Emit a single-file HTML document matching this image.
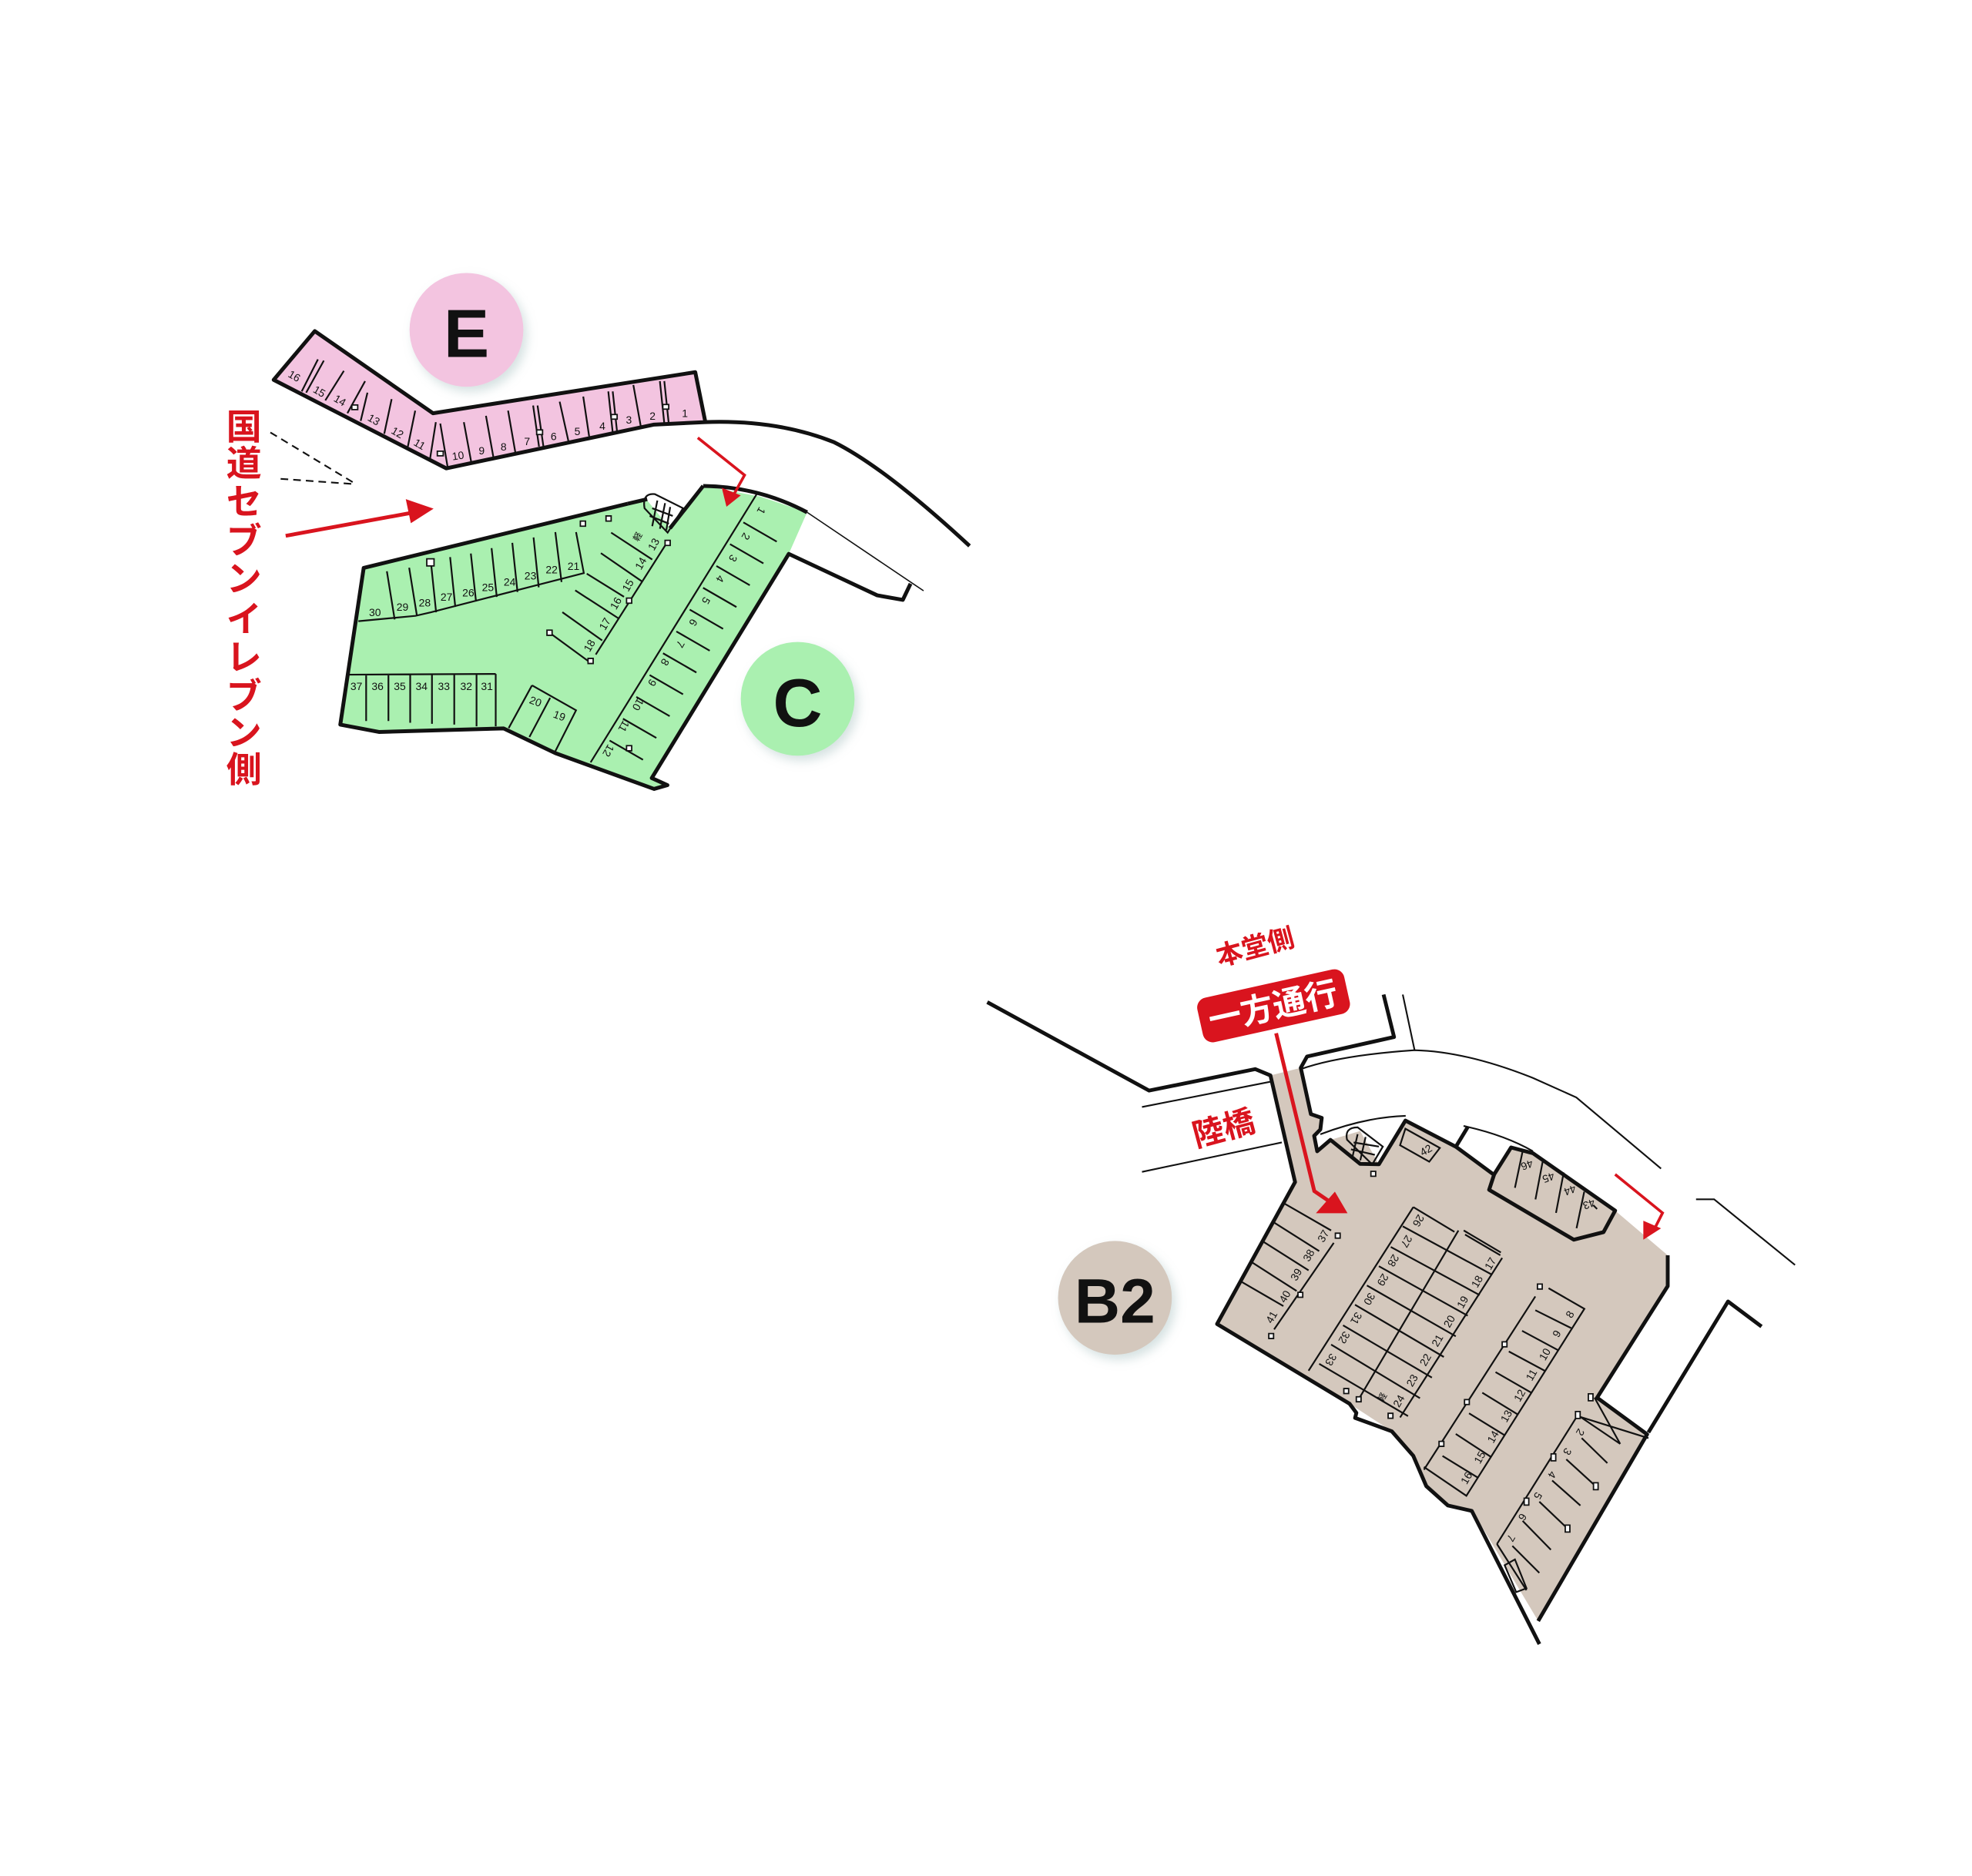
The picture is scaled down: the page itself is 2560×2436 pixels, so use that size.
<!DOCTYPE html>
<html><head><meta charset="utf-8"><style>
html,body{margin:0;padding:0;background:#fff;}
svg{display:block;}
text{font-family:"Liberation Sans","Noto Sans CJK JP",sans-serif;}
.n{font-size:8.5px;fill:#111;text-anchor:middle;dominant-baseline:central;}
.r{fill:#d9141e;font-weight:bold;text-anchor:middle;dominant-baseline:central;font-family:"Liberation Sans","Noto Sans CJK JP",sans-serif;}
.t{fill:none;stroke:#111;stroke-width:2.2;vector-effect:non-scaling-stroke;}
.k{fill:none;stroke:#111;stroke-width:5;stroke-linejoin:round;vector-effect:non-scaling-stroke;}
.th{fill:none;stroke:#111;stroke-width:1.6;vector-effect:non-scaling-stroke;}
.sq{fill:#fff;stroke:#111;stroke-width:1.8;vector-effect:non-scaling-stroke;}
</style></head><body>
<svg width="2560" height="2436" viewBox="0 0 1560 1484.5" preserveAspectRatio="none" xmlns="http://www.w3.org/2000/svg">
<defs>
<filter id="sh" x="-30%" y="-30%" width="160%" height="160%"><feDropShadow dx="3" dy="4" stdDeviation="4" flood-color="#8aa" flood-opacity="0.35"/></filter>
</defs>

<!-- ===== E / C area ===== -->
<path d="M558,334 Q615,332 660,350 Q700,370 767,432" class="k"/>
<polygon points="216.5,300.6 249,262 342.5,327 550,294.5 558,334 517.4,336 353,370.6" class="k" style="fill:#f3c4e0"/>
<g transform="translate(207.2,255.9) scale(0.2332,0.2031)">
<path class="t" d="M135,265L190,140M150,270L210,145M215,300L278,185M290,350L350,225M335,380L358,270M415,430L440,295M495,480L520,340M570,530L590,385M605,390L630,560M685,385L710,540M760,360L785,520M835,340L860,505M920,320L940,480M935,320L955,480M1010,305L1040,460M1090,285L1110,440M1175,265L1190,425M1190,265L1205,425M1260,240L1285,400M1350,225L1365,390M1365,225L1380,390"/>
<rect class="sq" x="305" y="318" width="20" height="18"/><rect class="sq" x="595" y="498" width="20" height="18"/><rect class="sq" x="932" y="415" width="20" height="18"/><rect class="sq" x="1185" y="355" width="20" height="18"/><rect class="sq" x="1360" y="316" width="20" height="18"/>
</g>
<g class="n">
<text x="232.9" y="297.5" transform="rotate(30 232.9 297.5)">16</text>
<text x="252.7" y="309.7" transform="rotate(30 252.7 309.7)">15</text>
<text x="269" y="316.8" transform="rotate(30 269 316.8)">14</text>
<text x="295.8" y="332" transform="rotate(30 295.8 332)">13</text>
<text x="314.5" y="342.2" transform="rotate(30 314.5 342.2)">12</text>
<text x="332" y="351.4" transform="rotate(30 332 351.4)">11</text>
<text x="362.3" y="360.5" transform="rotate(-8 362.3 360.5)">10</text>
<text x="381" y="356.4">9</text><text x="398.4" y="353.4">8</text><text x="417" y="349.3">7</text>
<text x="438" y="345.3">6</text><text x="456.7" y="341.2">5</text><text x="476.5" y="337.1">4</text>
<text x="497.5" y="332">3</text><text x="516.2" y="329">2</text><text x="541.8" y="327">1</text>
</g>

<!-- C lot -->
<polygon points="287.7,449.4 496.6,398.6 512,396 530,418 556.3,384.5 601.5,393 638.5,405.4 624,438.3 515.6,615.7 528,621.3 517.4,624.3 439.4,596 398.4,576.4 299.8,579.2 269.2,573.4" fill="#aaf0b0"/>
<polygon points="638.5,405.4 730.6,467.5 720.3,461.9 714.2,474.7 694,471.1 624,438.3" fill="#fff"/>
<path class="k" d="M556.3,384.5 Q600,385 638.5,405.4"/>
<path class="k" d="M556.3,384.5 L530,418"/>
<path class="k" d="M496.6,398.6 L287.7,449.4 L269.2,573.4 L299.8,579.2 L398.4,576.4 L439.4,596 L517.4,624.3 L528,621.3 L515.6,615.7 L624,438.3 L694,471.1 L714.2,474.7 L720.3,461.9"/>
<path class="th" d="M638.5,405.4 L730.6,467.5"/>
<path class="k" d="M496.6,398.6 L512,395"/>
<g transform="translate(426.6,377.8) scale(0.2031)">
<path d="M410,120 Q400,60 450,65 L560,120 L500,215 Z" fill="#fff" class="t"/>
<path class="t" d="M440,120L520,150M430,150L505,180M460,90L440,190M490,100L470,200M510,115L495,205"/>
<path class="t" d="M850,60L200,1110"/>
<path class="t" d="M795,175L925,250M743,260L873,335M690,345L820,420M638,430L768,505M586,515L716,590M534,600L664,675M482,685L612,760M430,770L560,845M378,855L508,930M326,940L456,1015M274,1025L404,1100"/>
<path class="t" d="M500,250L220,690M280,215L440,320M240,295L400,405M185,375L330,465M140,440L310,550M90,525L245,635M40,605L190,715"/>
<rect class="sq" x="160" y="170" width="20" height="20"/><rect class="sq" x="260" y="150" width="20" height="20"/><rect class="sq" x="490" y="245" width="20" height="20"/><rect class="sq" x="340" y="470" width="20" height="20"/><rect class="sq" x="190" y="705" width="20" height="20"/><rect class="sq" x="30" y="595" width="20" height="20"/><rect class="sq" x="340" y="1045" width="20" height="20"/>
</g>
<g transform="translate(152.3,201.1) scale(0.410,0.282)">
<path class="t" d="M320,1030L430,1015L460,1005L755,895L740,780M375,890L390,1025M418,880L433,1015M460,865L470,1005M497,850L507,990M537,840L547,975M577,825L587,962M617,810L627,948M658,795L668,935M700,780L712,920"/>
<path class="t" d="M300,1180L585,1178M335,1180L335,1310M378,1180L378,1310M420,1180L420,1315M462,1180L462,1318M505,1180L505,1320M548,1180L548,1325M585,1178L585,1325"/>
<path class="t" d="M655,1210L740,1280L700,1395M610,1330L655,1210M690,1245L650,1355"/>
<rect class="sq" x="452" y="855" width="14" height="20"/>
</g>
<g class="n">
<text x="296.6" y="484.5">30</text><text x="318.4" y="480.3">29</text><text x="336" y="476.9">28</text><text x="353.2" y="472.4">27</text><text x="370.4" y="469">26</text><text x="386" y="464.8">25</text><text x="403.2" y="460.5">24</text><text x="419.6" y="455.5">23</text><text x="436.4" y="450.7">22</text><text x="453.7" y="447.9">21</text>
<text x="281.9" y="542.9">37</text><text x="298.7" y="542.9">36</text><text x="316.3" y="542.9">35</text><text x="333.5" y="542.9">34</text><text x="351.2" y="542.9">33</text><text x="368.8" y="542.9">32</text><text x="385.2" y="542.9">31</text>
<text x="423.7" y="555" transform="rotate(20 423.7 555)">20</text><text x="442.6" y="566.3" transform="rotate(20 442.6 566.3)">19</text>
<text x="602.3" y="404.2" transform="rotate(120 602.3 404.2)">1</text><text x="590.1" y="424.5" transform="rotate(120 590.1 424.5)">2</text><text x="580" y="441.8" transform="rotate(120 580 441.8)">3</text><text x="569.8" y="458" transform="rotate(120 569.8 458)">4</text><text x="558.6" y="475.3" transform="rotate(120 558.6 475.3)">5</text><text x="548.5" y="492.6" transform="rotate(120 548.5 492.6)">6</text><text x="538.3" y="509.8" transform="rotate(120 538.3 509.8)">7</text><text x="526.1" y="524" transform="rotate(120 526.1 524)">8</text><text x="516" y="540.3" transform="rotate(120 516 540.3)">9</text><text x="504.8" y="557.5" transform="rotate(120 504.8 557.5)">10</text><text x="493.6" y="574.8" transform="rotate(120 493.6 574.8)">11</text><text x="481.4" y="594.1" transform="rotate(120 481.4 594.1)">12</text>
<text x="517" y="430.6" transform="rotate(-60 517 430.6)">13</text><text x="506.8" y="445.8" transform="rotate(-60 506.8 445.8)">14</text><text x="496.7" y="463.1" transform="rotate(-60 496.7 463.1)">15</text><text x="487.1" y="477.3" transform="rotate(-60 487.1 477.3)">16</text><text x="478.4" y="493.6" transform="rotate(-60 478.4 493.6)">17</text><text x="466.2" y="510.8" transform="rotate(-60 466.2 510.8)">18</text>
<text x="505" y="425" font-size="7" transform="rotate(-60 505 425)">軽</text>
</g>

<path d="M213.9,342.2 L281.5,383 M222,378.9 L279.5,383" stroke="#111" stroke-width="1.3" stroke-dasharray="6,4" fill="none"/>
<path d="M226,424 L330,405" stroke="#d9141e" stroke-width="3" fill="none"/>
<polygon points="343,402.5 321,395 325,414" fill="#d9141e"/>
<path d="M552,346.4 L589,376 L579,394" stroke="#d9141e" stroke-width="2.2" fill="none"/>
<polygon points="574.7,401 571,386 586,392" fill="#d9141e"/>
<text class="r" font-size="28" x="193" y="338">国</text>
<text class="r" font-size="28" x="193" y="367">道</text>
<text class="r" font-size="28" x="193" y="397">セ</text>
<text class="r" font-size="28" x="193" y="428">ブ</text>
<text class="r" font-size="28" x="193" y="458">ン</text>
<text class="r" font-size="28" x="193" y="490">イ</text>
<text class="r" font-size="28" x="193" y="520">レ</text>
<text class="r" font-size="28" x="193" y="551">ブ</text>
<text class="r" font-size="28" x="193" y="580">ン</text>
<text class="r" font-size="28" x="193" y="609">側</text>

<circle cx="369" cy="261" r="45" fill="#f3c4e0" filter="url(#sh)"/>
<text x="369" y="264" font-size="54" font-weight="bold" text-anchor="middle" dominant-baseline="central" fill="#111">E</text>
<circle cx="631" cy="553" r="45" fill="#aaf0b0" filter="url(#sh)"/>
<text x="631" y="556" font-size="54" font-weight="bold" text-anchor="middle" dominant-baseline="central" fill="#111">C</text>
<circle cx="882" cy="1027" r="45" fill="#d4c8bd" filter="url(#sh)"/>
<text x="882" y="1030" font-size="50" font-weight="bold" text-anchor="middle" dominant-baseline="central" fill="#111">B2</text>

<!-- ===== B2 ===== -->
<polygon points="1005,851 1029,845 1037,881.6 1045.6,884.6 1044.5,893.8 1039.6,898.8 1042,911 1052.5,902 1076,895 1090.8,921.3 1111.8,886.7 1151.7,907.4 1181,929 1178,941.5 1245,981 1268.5,975 1277.7,958 1319.3,993.3 1319.3,1017.7 1263.4,1106 1303,1135 1216.8,1282.7 1166,1197.4 1145.4,1191.3 1128.3,1176 1118,1152 1101,1132.6 1067.6,1110.8 962.8,1047.7 1024.5,935.4" fill="#d4c8bd"/>
<g fill="none" stroke="#111" stroke-width="3" stroke-linejoin="round">
<path d="M781,793 L909,863 L993,846 L1005,851 L1024.5,935.4 L962.8,1047.7 L1067.6,1110.8 L1073,1118 L1072,1122 L1101,1132.6 L1118,1152 L1128.3,1176 L1145.4,1191.3 L1164.3,1195.6 L1217.8,1301"/>
<path d="M1094.5,787 L1102.8,820.6 L1034,836 L1029,845 L1037,881.6 L1045.6,884.6 L1044.5,893.8 L1039.6,898.8 L1042,911 L1052.5,902 L1076,921 L1090.8,921.3 L1111.8,886.7 L1151.7,907.4 L1181,929"/>
<path d="M1161,892 L1151.7,907.4"/>
<path d="M1182,929.3 L1195.4,908 L1212.7,912.6 L1277.7,958 L1268.5,975 L1245,981 L1178,941.5 Z" fill="#d4c8bd"/>
<path d="M1319.3,993.3 L1319.3,1017.7 L1263.4,1106 L1303,1135 L1216.8,1282.7"/>
<path d="M1304,1133.5 L1367,1029.9 L1393.5,1049.7"/>
</g>
<g fill="none" stroke="#111" stroke-width="1.3">
<path d="M1109.7,787 L1119,830.8"/>
<path d="M1029,846 Q1060,835 1119,831 Q1160,832 1212.7,853 L1247,868.4 L1314,924.7"/>
<path d="M903.4,876 L1004.8,856 M903.4,927.3 L1014,904"/>
<path d="M1044.5,897.6 Q1080,884 1112,883 M1157.8,891 Q1190,898 1212.7,911"/>
<path d="M1341.7,949 L1356,949 L1420,1001"/>
</g>
<g transform="translate(962.8,871.4) scale(0.2098,0.2176)">
<path d="M490,140 Q480,95 530,95 L625,165 L585,230 Z" fill="#fff" class="t"/>
<path class="t" d="M515,150L610,165M505,175L595,195M530,120L510,205M560,130L540,215"/>
<rect class="sq" x="580" y="255" width="18" height="18"/>
<path class="t" d="M710,100L840,170L800,220L690,160Z"/>
<path class="t" d="M250,370L430,470M213,440L385,545M173,510L345,615M130,585L300,690M89,655L250,745M440,515L215,830"/>
<rect class="sq" x="446" y="480" width="18" height="18"/><rect class="sq" x="305" y="695" width="18" height="18"/><rect class="sq" x="195" y="845" width="18" height="18"/>
<path class="t" d="M740,385L345,980M740,385L895,475M910,470L530,1090M1075,570L690,1150M930,470L1070,550M935,485L1068,560"/>
<path class="t" d="M700,455L1035,630M655,530L990,705M610,600L945,780M565,670L900,855M520,740L855,930M475,815L810,1005M430,885L765,1080M385,955L720,1145"/>
<rect class="sq" x="478" y="1045" width="18" height="18"/><rect class="sq" x="525" y="1075" width="18" height="18"/><rect class="sq" x="645" y="1135" width="18" height="18"/>
<path class="t" d="M1250,680L1385,755L940,1435L780,1330M1200,710L780,1340"/>
<path class="t" d="M1335,825L1200,760M1285,905L1150,835M1235,980L1100,910M1185,1060L1050,985M1135,1140L1000,1060M1085,1215L950,1135M1035,1295L900,1210M985,1370L850,1290"/>
<rect class="sq" x="1208" y="665" width="18" height="18"/><rect class="sq" x="1075" y="875" width="18" height="18"/><rect class="sq" x="933" y="1085" width="18" height="18"/><rect class="sq" x="837" y="1237" width="18" height="18"/>
</g>
<g transform="translate(1157.8,853.1) scale(0.2031,0.3047)">
<path class="t" d="M445,875L130,1210M130,1210L245,1330M460,935L560,1000M400,990L515,1060M345,1045L455,1110M295,1100L405,1170M230,1150L340,1225M190,1215L295,1285M455,880L610,950M510,830L610,950M455,880L720,935"/>
<path class="t" d="M160,1265L200,1250L245,1325L205,1335Z"/>
<path class="t" d="M200,285L230,190M280,315L310,210M360,350L390,245M440,390L470,295M505,330L520,340"/>
<rect class="sq" x="436" y="866" width="18" height="18"/><rect class="sq" x="341" y="976" width="18" height="18"/><rect class="sq" x="236" y="1091" width="18" height="18"/><rect class="sq" x="486" y="820" width="18" height="18"/><rect class="sq" x="506" y="1051" width="18" height="18"/><rect class="sq" x="396" y="1161" width="18" height="18"/>
</g>
<g class="n">
<text x="1128" y="910" transform="rotate(-30 1128 910)">42</text>
<text x="1208" y="922" transform="rotate(160 1208 922)">46</text><text x="1225" y="932" transform="rotate(160 1225 932)">45</text><text x="1242" y="942" transform="rotate(160 1242 942)">44</text><text x="1257" y="953" transform="rotate(160 1257 953)">43</text>
<text x="1046.7" y="978" transform="rotate(-60 1046.7 978)">37</text><text x="1035.2" y="993.3" transform="rotate(-60 1035.2 993.3)">38</text><text x="1025.3" y="1008.5" transform="rotate(-60 1025.3 1008.5)">39</text><text x="1016.3" y="1025.9" transform="rotate(-60 1016.3 1025.9)">40</text><text x="1005.8" y="1042.2" transform="rotate(-60 1005.8 1042.2)">41</text>
<text x="1122.2" y="966" transform="rotate(120 1122.2 966)">26</text><text x="1112.8" y="982.4" transform="rotate(120 1112.8 982.4)">27</text><text x="1102.3" y="997.6" transform="rotate(120 1102.3 997.6)">28</text><text x="1094" y="1012.8" transform="rotate(120 1094 1012.8)">29</text><text x="1083.4" y="1028" transform="rotate(120 1083.4 1028)">30</text><text x="1073" y="1043.3" transform="rotate(120 1073 1043.3)">31</text><text x="1063.5" y="1058.5" transform="rotate(120 1063.5 1058.5)">32</text><text x="1053" y="1076" transform="rotate(120 1053 1076)">33</text>
<text x="1178.9" y="999.8" transform="rotate(-60 1178.9 999.8)">17</text><text x="1168.4" y="1014" transform="rotate(-60 1168.4 1014)">18</text><text x="1156.9" y="1030.3" transform="rotate(-60 1156.9 1030.3)">19</text><text x="1146.4" y="1045.5" transform="rotate(-60 1146.4 1045.5)">20</text><text x="1137" y="1060.7" transform="rotate(-60 1137 1060.7)">21</text><text x="1127.5" y="1076" transform="rotate(-60 1127.5 1076)">22</text><text x="1117" y="1092.3" transform="rotate(-60 1117 1092.3)">23</text><text x="1106.5" y="1108.6" transform="rotate(-60 1106.5 1108.6)">24</text>
<text x="1094" y="1106" font-size="7" transform="rotate(-60 1094 1106)">軽</text>
<text x="1241.8" y="1040" transform="rotate(-60 1241.8 1040)">8</text><text x="1231.4" y="1055.3" transform="rotate(-60 1231.4 1055.3)">9</text><text x="1222" y="1071.6" transform="rotate(-60 1222 1071.6)">10</text><text x="1211.4" y="1087.9" transform="rotate(-60 1211.4 1087.9)">11</text><text x="1202" y="1104.2" transform="rotate(-60 1202 1104.2)">12</text><text x="1191.5" y="1120.5" transform="rotate(-60 1191.5 1120.5)">13</text><text x="1181" y="1136.9" transform="rotate(-60 1181 1136.9)">14</text><text x="1170.5" y="1153.2" transform="rotate(-60 1170.5 1153.2)">15</text><text x="1160" y="1169.5" transform="rotate(-60 1160 1169.5)">16</text>
<text x="1250.2" y="1133.4" transform="rotate(120 1250.2 1133.4)">2</text><text x="1240" y="1148.7" transform="rotate(120 1240 1148.7)">3</text><text x="1227.9" y="1167" transform="rotate(120 1227.9 1167)">4</text><text x="1216.7" y="1183.7" transform="rotate(120 1216.7 1183.7)">5</text><text x="1204.5" y="1200.5" transform="rotate(120 1204.5 1200.5)">6</text><text x="1195.4" y="1217.2" transform="rotate(120 1195.4 1217.2)">7</text>
</g>
<path d="M1009.5,817.6 L1039.7,942.5 L1058,955" stroke="#d9141e" stroke-width="3" fill="none"/>
<polygon points="1066,960 1041,960 1056,943" fill="#d9141e"/>
<path d="M1277.7,929.3 L1315.2,959.8 L1309,972" stroke="#d9141e" stroke-width="2.2" fill="none"/>
<polygon points="1300,981 1300,966 1314,972" fill="#d9141e"/>
<g transform="rotate(-12.5 1007 796)">
<rect x="948" y="778" width="119" height="36" rx="8" fill="#d9141e"/>
<text x="1007" y="797" font-size="26" font-weight="bold" fill="#fff" text-anchor="middle" dominant-baseline="central" font-family="Liberation Sans, Noto Sans CJK JP, sans-serif">一方通行</text>
</g>
<text class="r" font-size="21" x="993" y="750" transform="rotate(-15 993 750)">本堂側</text>
<text class="r" font-size="25" x="968" y="893" transform="rotate(-15 968 893)">陸橋</text>
</svg>
</body></html>
